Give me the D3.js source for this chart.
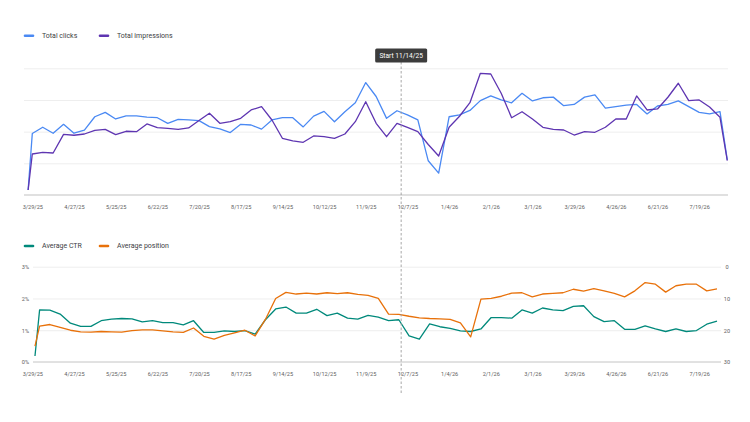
<!DOCTYPE html>
<html>
<head>
<meta charset="utf-8">
<script src="https://cdn.jsdelivr.net/npm/d3@7"></script>
<style>
  body { margin: 0; background: #fff; }
  svg { display: block; font-family: Roboto, "Noto Sans", Arial, sans-serif; }
</style>
</head>
<body>
<svg id="chart" width="750" height="422"></svg>
<script>
/**
 * Weekly data. The first point of each series is a partial week, and so is the
 * last point of the top chart.
 */
var tickLabels = ["3/29/25", "4/27/25", "5/25/25", "6/22/25", "7/20/25", "8/17/25",
		  "9/14/25", "10/12/25", "11/9/25", "12/7/25", "1/4/26", "2/1/26",
		  "3/1/26", "3/29/26", "4/26/26", "6/21/26", "7/19/26"];
var tickWeeks = [0, 4, 8, 12, 16, 20, 24, 28, 32, 36, 40, 44, 48, 52, 56, 60, 64];

var clicks = [16, 194, 214, 195, 223, 195, 205, 247, 261, 240, 250,
	      250, 246, 244, 226, 239, 237, 235, 216, 209, 197,
	      223, 221, 208, 237, 244, 244, 215, 249, 264, 231,
	      263, 291, 355, 311, 242, 266, 253, 237, 108, 69,
	      247, 253, 267, 298, 313, 300, 291, 321, 297, 307,
	      309, 282, 286, 309, 316, 274, 279, 284, 286, 256,
	      281, 286, 297, 279, 261, 256, 263, 111];
var impressions = [790, 6470, 6740, 6630, 9580, 9430, 9630, 10210, 10370, 9520, 10060,
		   9990, 11210, 10630, 10530, 10370, 10580, 11760, 12900, 11320, 11570,
		   12110, 13420, 13940, 11840, 8950, 8530, 8320, 9320, 9200, 8950,
		   9630, 11570, 14730, 11320, 9200, 11320, 10660, 9990, 7970, 6160,
		   10690, 12430, 14570, 19210, 19100, 16060, 12200, 13150, 12000, 10690,
		   10370, 10260, 9470, 9990, 9900, 10690, 12000, 12000, 15630, 13420,
		   13580, 15430, 17640, 14890, 15000, 13890, 12270, 5420];

var ctr = [0.19,
	   1.64, 1.63, 1.51, 1.22, 1.12, 1.12, 1.30, 1.35, 1.37, 1.36,
	   1.26, 1.30, 1.24, 1.24, 1.17, 1.30, 0.93, 0.93, 0.98, 0.96,
	   0.99, 0.88, 1.33, 1.67, 1.73, 1.54, 1.54, 1.66, 1.46, 1.54,
	   1.38, 1.35, 1.47, 1.41, 1.30, 1.33, 0.82, 0.72, 1.20, 1.11,
	   1.06, 0.98, 0.96, 1.04, 1.40, 1.40, 1.38, 1.64, 1.54, 1.70,
	   1.64, 1.62, 1.75, 1.77, 1.43, 1.27, 1.30, 1.03, 1.03, 1.14,
	   1.04, 0.96, 1.04, 0.96, 0.99, 1.19, 1.29];
var position = [25,
		18.7, 18.2, 19.1, 20.0, 20.5, 20.6, 20.4, 20.5, 20.6, 20.1,
		19.9, 19.9, 20.2, 20.5, 20.7, 19.3, 21.9, 22.8, 21.6, 20.8,
		20.0, 21.8, 16.6, 10.0, 8.1, 8.6, 8.3, 8.6, 8.2, 8.5,
		8.2, 8.7, 9.0, 10.0, 14.9, 15.0, 15.6, 16.1, 16.3, 16.4,
		16.6, 17.7, 22.1, 10.2, 10.0, 9.3, 8.3, 8.2, 9.5, 8.6,
		8.4, 8.2, 7.1, 7.7, 6.9, 7.6, 8.4, 9.5, 7.6, 5.0,
		5.5, 8.0, 6.0, 5.5, 5.5, 7.6, 7.0];

var ctrTicks = [0, 1, 2, 3];
var positionTicks = [0, 10, 20, 30];
var startMark = { week: 35.4, label: "Start 11/14/25" };

/**
 * Week index of every point (partial weeks sit between whole ones).
 */
var topWeeks = [-0.4].concat(d3.range(67), [66.7]);
var bottomWeeks = [-0.45].concat(d3.range(67));

var colors = { clicks: "#4a89f3", impressions: "#5e35b1", ctr: "#00897b", position: "#e8710a" };
var gridColor = "#eeeeee", tickColor = "#616161";

var svg = d3.select("#chart");
svg.append("rect").attr("width", 750).attr("height", 422).attr("fill", "#fff");

/**
 * Scales.
 */
var xTop = d3.scaleLinear().domain([0, 66]).range([32.3, 720]);
var xBottom = d3.scaleLinear().domain([0, 66]).range([39.6, 717]);
var yClicks = d3.scaleLinear().domain([0, 400]).range([195, 68.3]);
var yImpr = d3.scaleLinear().domain([0, 20000]).range([195, 68.3]);
var yCtr = d3.scaleLinear().domain([0, 3]).range([362, 266.7]);
var yPos = d3.scaleLinear().domain([0, 30]).range([266.7, 362]);

/**
 * Grid lines.
 */
function grid(scale, values, x0, x1) {
    var g = svg.append("g").attr("transform", "translate(" + x0 + ",0)")
	.call(d3.axisRight(scale).tickValues(values).tickSize(x1 - x0).tickFormat(""));
    g.select(".domain").remove();
    g.selectAll(".tick line").attr("stroke", gridColor).attr("stroke-width", 1);
    return g;
}
grid(yClicks, [100, 200, 300, 400], 24, 728);
grid(yCtr, [1, 2, 3], 33, 721);
svg.append("line").attr("x1", 24).attr("x2", 728)
    .attr("y1", yClicks(0)).attr("y2", yClicks(0))
    .attr("stroke", "#d6d6d6").attr("stroke-width", 1.4);
svg.append("line").attr("x1", 33).attr("x2", 721)
    .attr("y1", yCtr(0)).attr("y2", yCtr(0))
    .attr("stroke", "#c4c4c4").attr("stroke-width", 1);

/**
 * X axes, both use the same tick positions.
 */
function xAxis(y, pad) {
    var g = svg.append("g").attr("transform", "translate(0," + y + ")")
	.call(d3.axisBottom(xTop).tickValues(tickWeeks)
	      .tickFormat(function (d, i) { return tickLabels[i]; })
	      .tickSize(0).tickPadding(pad));
    g.select(".domain").remove();
    g.selectAll("text").attr("fill", tickColor)
	.style("font-size", "5.6px").style("font-family", "Roboto, sans-serif");
}
xAxis(195, 10.5);
xAxis(362, 10.2);

/**
 * Y axes of the bottom chart.
 */
var gl = svg.append("g").attr("transform", "translate(29,0)")
    .call(d3.axisLeft(yCtr).tickValues(ctrTicks)
	  .tickFormat(function (d) { return d + "%"; }).tickSize(0).tickPadding(0));
gl.select(".domain").remove();
gl.selectAll("text").attr("fill", tickColor)
    .style("font-size", "5.6px").style("font-family", "Roboto, sans-serif");

var gr = svg.append("g").attr("transform", "translate(727,0)")
    .call(d3.axisRight(yPos).tickValues(positionTicks).tickSize(0).tickPadding(0));
gr.select(".domain").remove();
gr.selectAll("text").attr("fill", tickColor).attr("text-anchor", "middle")
    .style("font-size", "5.6px").style("font-family", "Roboto, sans-serif");

/**
 * Series lines.
 */
function drawLine(values, weeks, x, y, color) {
    var line = d3.line()
	.x(function (d, i) { return x(weeks[i]); })
	.y(function (d) { return y(d); });
    svg.append("path").datum(values).attr("d", line)
	.attr("fill", "none").attr("stroke", color).attr("stroke-width", 1.3)
	.attr("stroke-linejoin", "round");
}
drawLine(clicks, topWeeks, xTop, yClicks, colors.clicks);
drawLine(impressions, topWeeks, xTop, yImpr, colors.impressions);
drawLine(ctr, bottomWeeks, xBottom, yCtr, colors.ctr);
drawLine(position, bottomWeeks, xBottom, yPos, colors.position);

/**
 * Start marker: dashed line and dark label.
 */
var mx = xTop(startMark.week);
svg.append("line").attr("x1", mx).attr("x2", mx).attr("y1", 62).attr("y2", 395)
    .attr("stroke", "#9e9e9e").attr("stroke-width", 0.9).attr("stroke-dasharray", "2.5,2");
var tag = svg.append("g");
tag.append("rect").attr("x", mx - 26).attr("y", 48.5).attr("width", 52).attr("height", 14)
    .attr("rx", 1.5).attr("fill", "#3c3c3c");
tag.append("text").attr("x", mx).attr("y", 55.5).attr("text-anchor", "middle")
    .attr("dominant-baseline", "central").attr("fill", "#fff")
    .style("font-size", "6.6px").text(startMark.label);

/**
 * Legends.
 */
function legend(y, items) {
    items.forEach(function (it) {
	svg.append("line").attr("x1", it.x).attr("x2", it.x + 8).attr("y1", y).attr("y2", y)
	    .attr("stroke", it.color).attr("stroke-width", 2.6).attr("stroke-linecap", "round");
	svg.append("text").attr("x", it.x + 17).attr("y", y).attr("dominant-baseline", "central")
	    .attr("fill", "#3c4043").style("font-size", "7px").text(it.name);
    });
}
legend(35.7, [{ name: "Total clicks", color: colors.clicks, x: 25 },
	      { name: "Total impressions", color: colors.impressions, x: 100 }]);
legend(246, [{ name: "Average CTR", color: colors.ctr, x: 25 },
	     { name: "Average position", color: colors.position, x: 100 }]);
</script>
</body>
</html>
